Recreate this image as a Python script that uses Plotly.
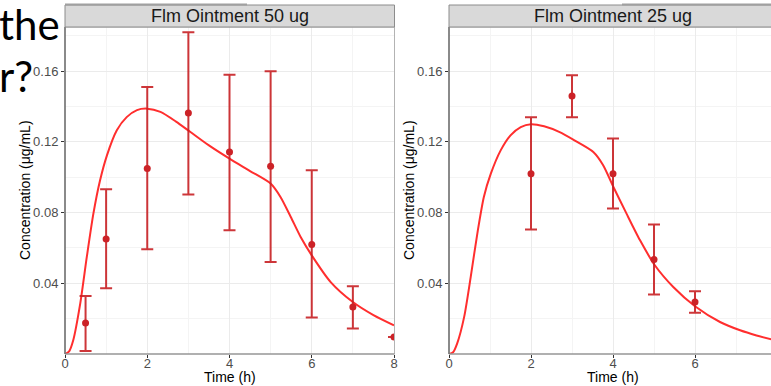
import plotly.graph_objects as go

W, H = 771, 386

# ---- data: left panel (Flm Ointment 50 ug) ----
obs_t_50 = [0.5, 1, 2, 3, 4, 5, 6, 7, 8]
obs_c_50 = [0.0176, 0.065, 0.105, 0.1364, 0.1143, 0.1062, 0.062, 0.0266, 0.0096]
obs_hi_50 = [0.0328, 0.0932, 0.151, 0.182, 0.158, 0.160, 0.1039, 0.0383, 0.0096]
obs_lo_50 = [0.0017, 0.0372, 0.0592, 0.0902, 0.070, 0.052, 0.0206, 0.0144, 0.0096]
pred_t_50 = [0, 0.1, 0.2, 0.37, 0.53, 0.69, 0.85, 1.02, 1.26, 1.5, 1.75, 2.0, 2.32, 2.7, 3.05,
             3.5, 4.0, 4.5, 5.0, 5.24, 5.49, 5.73, 6.0, 6.46, 7.0, 7.5, 8.0]
pred_c_50 = [0, 0.0015, 0.0078, 0.0285, 0.0549, 0.0794, 0.098, 0.1124, 0.1266, 0.134, 0.138,
             0.1388, 0.137, 0.1315, 0.1256, 0.118, 0.1105, 0.1035, 0.0964, 0.0888, 0.0775,
             0.0662, 0.0558, 0.0407, 0.0294, 0.022, 0.0162]

# ---- data: right panel (Flm Ointment 25 ug) ----
obs_t_25 = [2, 3, 4, 5, 6]
obs_c_25 = [0.102, 0.146, 0.102, 0.0534, 0.0294]
obs_hi_25 = [0.134, 0.1577, 0.1219, 0.0732, 0.0355]
obs_lo_25 = [0.0704, 0.134, 0.0823, 0.0336, 0.0234]
pred_t_25 = [0, 0.1, 0.2, 0.37, 0.53, 0.69, 0.85, 1.02, 1.26, 1.5, 1.75, 2.0, 2.32, 2.7, 3.05,
             3.52, 3.76, 4.01, 4.33, 4.66, 5.02, 5.47, 6.0, 6.61, 7.1, 7.5, 8.0]
pred_c_25 = [0, 0.001, 0.006, 0.021, 0.0436, 0.068, 0.0888, 0.102, 0.1152, 0.1237, 0.1284,
             0.130, 0.1288, 0.1255, 0.121, 0.1143, 0.1068, 0.0945, 0.0794, 0.0643, 0.0502,
             0.0379, 0.027, 0.0181, 0.0134, 0.0105, 0.0075]

panel_titles = ["Flm Ointment 50 ug", "Flm Ointment 25 ug"]
x_ticks = [0, 2, 4, 6, 8]
y_ticks = [0.04, 0.08, 0.12, 0.16]
y_tick_text = ["0.04", "0.08", "0.12", "0.16"]

CURVE = "#FF2E2E"
OBS = "rgba(200,32,36,0.9)"
FONT = "Liberation Sans, Arial, sans-serif"

def px(x):
    return x / W

def py(y):
    return 1 - y / H

fig = go.Figure()

for i, (pt, pc, ot, oc, ohi, olo) in enumerate([
        (pred_t_50, pred_c_50, obs_t_50, obs_c_50, obs_hi_50, obs_lo_50),
        (pred_t_25, pred_c_25, obs_t_25, obs_c_25, obs_hi_25, obs_lo_25)]):
    xa = "x" if i == 0 else "x2"
    ya = "y" if i == 0 else "y2"
    fig.add_trace(go.Scatter(x=pt, y=pc, mode="lines", line=dict(color=CURVE, width=2, shape="spline", smoothing=0.7),
                             xaxis=xa, yaxis=ya, showlegend=False, cliponaxis=True, hoverinfo="skip"))
    fig.add_trace(go.Scatter(x=ot, y=oc, mode="markers",
                             marker=dict(color="#CC2227", size=7),
                             error_y=dict(type="data", symmetric=False,
                                          array=[h - c for h, c in zip(ohi, oc)],
                                          arrayminus=[c - l for l, c in zip(olo, oc)],
                                          color=OBS, thickness=2, width=6),
                             xaxis=xa, yaxis=ya, showlegend=False, cliponaxis=True))

y_dom = [py(354), py(27)]
y_rng = [0, 0.185]
common_x = dict(showgrid=True, gridcolor="#EBEBEB", gridwidth=1, zeroline=False, automargin=False,
                tickvals=x_ticks, ticks="outside", ticklen=3, tickcolor="#333333",
                ticklabelstandoff=-6,
                tickfont=dict(family=FONT, size=13, color="#4D4D4D"),
                minor=dict(dtick=1, showgrid=True, gridcolor="#F4F4F4", gridwidth=1, ticks=""),
                showline=False)
common_y = dict(showgrid=True, gridcolor="#EBEBEB", gridwidth=1, zeroline=False, automargin=False,
                tickvals=y_ticks, ticktext=y_tick_text, ticks="outside", ticklen=3, tickcolor="#333333",
                tickfont=dict(family=FONT, size=13, color="#4D4D4D"),
                minor=dict(tickvals=[0.02, 0.06, 0.10, 0.14, 0.18], showgrid=True, gridcolor="#F4F4F4", gridwidth=1, ticks=""),
                range=y_rng, domain=y_dom, showline=False)

fig.update_layout(
    width=W, height=H, margin=dict(l=0, r=0, t=0, b=0, autoexpand=False),
    paper_bgcolor="white", plot_bgcolor="white",
    xaxis=dict(common_x, domain=[px(65), px(394)], range=[0, 8], anchor="y"),
    yaxis=dict(common_y, anchor="x"),
    xaxis2=dict(common_x, domain=[px(449), 1], range=[0, (771 - 449) / 41], anchor="y2"),
    yaxis2=dict(common_y, anchor="x2"),
)

shapes = []
# panel borders / axis lines
for (x0, x1) in [(65, 394.5), (449, 772)]:
    shapes.append(dict(type="rect", xref="paper", yref="paper", x0=px(x0), x1=px(x1), y0=py(354), y1=py(27),
                       line=dict(color="#B3B3B3", width=1), fillcolor="rgba(0,0,0,0)", layer="above"))
    shapes.append(dict(type="line", xref="paper", yref="paper", x0=px(x0), x1=px(x0), y0=py(354), y1=py(27),
                       line=dict(color="#555555", width=1.2), layer="above"))
    shapes.append(dict(type="line", xref="paper", yref="paper", x0=px(x0), x1=px(x1), y0=py(354), y1=py(354),
                       line=dict(color="#888888", width=1.2), layer="above"))
    # strip
    shapes.append(dict(type="rect", xref="paper", yref="paper", x0=px(x0), x1=px(x1), y0=py(27), y1=py(5),
                       line=dict(color="#8C8C8C", width=1), fillcolor="#D9D9D9", layer="above"))
# stray slide lines at top
shapes.append(dict(type="line", xref="paper", yref="paper", x0=px(65), x1=px(247), y0=py(4.5), y1=py(4.5),
                   line=dict(color="#A0A0A0", width=2)))
shapes.append(dict(type="line", xref="paper", yref="paper", x0=px(622), x1=1, y0=py(4.5), y1=py(4.5),
                   line=dict(color="#A0A0A0", width=2)))
fig.update_layout(shapes=shapes)

ann = []
for title, (x0, x1) in zip(panel_titles, [(65, 394.5), (449, 777)]):
    ann.append(dict(text=title, xref="paper", yref="paper", x=px((x0 + x1) / 2), y=py(16),
                    xanchor="center", yanchor="middle", showarrow=False,
                    font=dict(family=FONT, size=18, color="#1A1A1A")))
    ann.append(dict(text="Time (h)", xref="paper", yref="paper", x=px((x0 + x1) / 2), y=py(377),
                    xanchor="center", yanchor="middle", showarrow=False, borderpad=0,
                    font=dict(family=FONT, size=14, color="black")))
    ann.append(dict(text="Concentration (μg/mL)", xref="paper", yref="paper", x=px(x0 - 40), y=py(190),
                    xanchor="center", yanchor="middle", showarrow=False, textangle=-90,
                    font=dict(family=FONT, size=14, color="black")))
# slide text fragments
ann.append(dict(text="the", xref="paper", yref="paper", x=px(-3), y=py(24), xanchor="left", yanchor="middle",
                showarrow=False, font=dict(family="Lato, sans-serif", size=42, color="black")))
ann.append(dict(text="r?", xref="paper", yref="paper", x=px(-3), y=py(76), xanchor="left", yanchor="middle",
                showarrow=False, font=dict(family="Lato, sans-serif", size=42, color="black")))
ann.append(dict(text="Time (h)", xref="paper", yref="paper", x=px(452), y=py(1), xanchor="center", yanchor="bottom",
                showarrow=False, font=dict(family=FONT, size=13, color="black")))
fig.update_layout(annotations=ann)

fig.write_html("out.html", config={"displayModeBar": False},
               post_script="document.body.style.margin='0';document.body.style.overflow='hidden';")
